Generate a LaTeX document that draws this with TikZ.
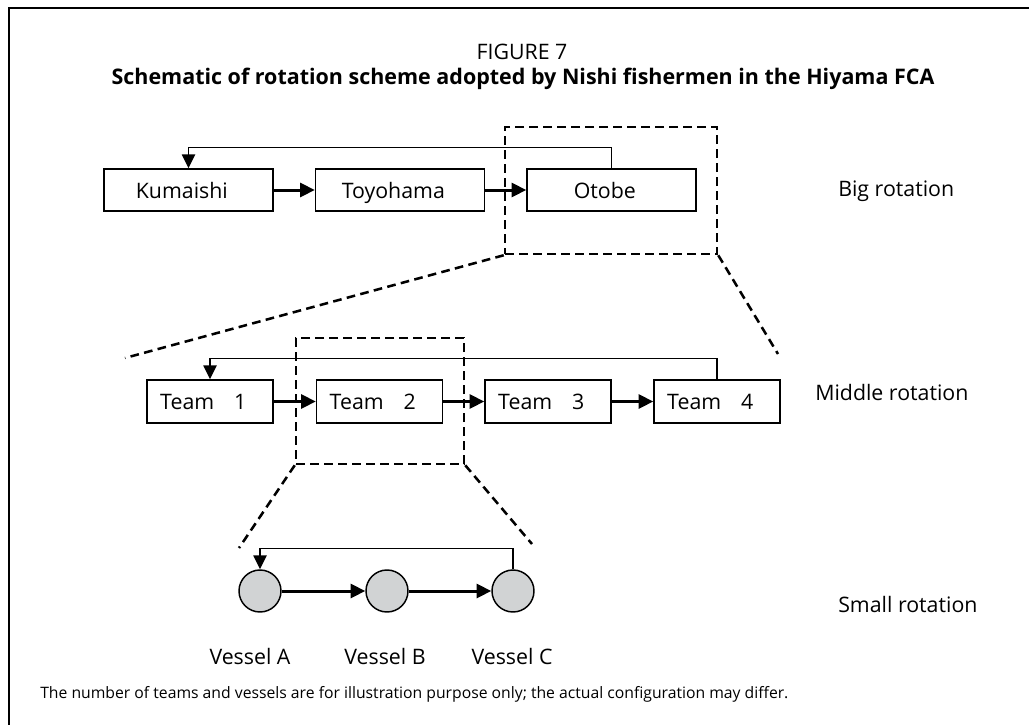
\documentclass[tikz,border=0pt]{standalone}
\usepackage{fontspec}
\setmainfont{Open Sans}
\usetikzlibrary{arrows.meta}
\definecolor{vgray}{RGB}{209,211,212}
\newcommand{\boxtxt}[1]{#1\kern10pt}
\begin{document}
\begin{tikzpicture}[x=0.75pt,y=-0.75pt,
  box/.style={draw, line width=1.1pt, minimum height=31.5pt, inner sep=0pt, text height=12pt, text depth=0pt, font=\fontsize{16}{19}\selectfont},
  bigbox/.style={box, minimum width=126.75pt},
  teambox/.style={box, minimum width=94.5pt, minimum height=32.25pt},
  vessel/.style={circle, draw, line width=1.1pt, fill=vgray, minimum size=31.5pt, inner sep=0pt},
  flow/.style={line width=2.25pt, -{Triangle[length=11pt,width=10.5pt]}},
  back/.style={line width=1.1pt, -{Triangle[length=10.5pt,width=10pt]}},
  zoombox/.style={draw, line width=1.9pt, dash pattern=on 6.5pt off 4pt, inner sep=0pt},
  zoomline/.style={line width=1.9pt, dash pattern=on 6.5pt off 4pt},
  lbl/.style={font=\fontsize{16}{19}\selectfont, anchor=west, inner sep=0pt},
  vlbl/.style={font=\fontsize{16}{19}\selectfont, inner sep=0pt},
]
\useasboundingbox (0,0) rectangle (1029,725);
\draw[line width=1pt] (9,725) -- (9,8) -- (1029,8);

% titles
\node[font=\fontsize{16}{19}\selectfont] (fig) at (522,52) {FIGURE 7};
\node[font=\bfseries\fontsize{16.1}{19}\selectfont] (title) at (523,79) {Schematic of rotation scheme adopted by Nishi fishermen in the Hiyama FCA};

% big rotation
\node[bigbox] (kum) at (188.5,190) {\boxtxt{Kumaishi}};
\node[bigbox] (toy) at (400,190) {\boxtxt{Toyohama}};
\node[bigbox] (oto) at (611.5,190) {\boxtxt{Otobe}};
\draw[flow] (kum) -- (toy);
\draw[flow] (toy) -- (oto);
\draw[back] (oto.north) -- ++(0,-21) -| (kum.north);
\node[zoombox, minimum width=159pt, minimum height=95.25pt] (zoomA) at (611,190.5) {};

% middle rotation
\node[teambox] (t1) at (210,401.5) {\boxtxt{Team\hspace{15pt}1}};
\node[teambox] (t2) at (379.5,401.5) {\boxtxt{Team\hspace{15pt}2}};
\node[teambox] (t3) at (548,401.5) {\boxtxt{Team\hspace{15pt}3}};
\node[teambox] (t4) at (717,401.5) {\boxtxt{Team\hspace{15pt}4}};
\draw[flow] (t1) -- (t2);
\draw[flow] (t2) -- (t3);
\draw[flow] (t3) -- (t4);
\draw[back] (t4.north) -- ++(0,-21) -| (t1.north);
\node[zoombox, minimum width=126pt, minimum height=94.5pt] (zoomB) at (380,401) {};

\coordinate (zA1) at (125,358);
\coordinate (zA2) at (778,354);
\draw[zoomline] (zoomA.south west) -- (zA1);
\draw[zoomline] (zoomA.south east) -- (zA2);

% small rotation
\node[vessel] (va) at (260,591) {};
\node[vessel] (vb) at (387,591) {};
\node[vessel] (vc) at (513,591) {};
\draw[flow] (va) -- (vb);
\draw[flow] (vb) -- (vc);
\draw[back] (vc.north) -- ++(0,-21) -| (va.north);

\coordinate (zB1) at (239,548);
\coordinate (zB2) at (532,544);
\draw[zoomline] (zoomB.south west) -- (zB1);
\draw[zoomline] (zoomB.south east) -- (zB2);

\node[vlbl] (la) at (250,656) {Vessel A};
\node[vlbl] (lb) at (385,656) {Vessel B};
\node[vlbl] (lc) at (512,656) {Vessel C};

% side labels
\node[lbl] (big) at (838,191) {Big rotation};
\node[lbl] (mid) at (815,392) {Middle rotation};
\node[lbl] (small) at (838,604) {Small rotation};

% footnote
\node[anchor=west, inner sep=0pt, font=\fontsize{11.8}{14}\selectfont] (note) at (40,694) {The number of teams and vessels are for illustration purpose only; the actual configuration may differ.};
\end{tikzpicture}
\end{document}
